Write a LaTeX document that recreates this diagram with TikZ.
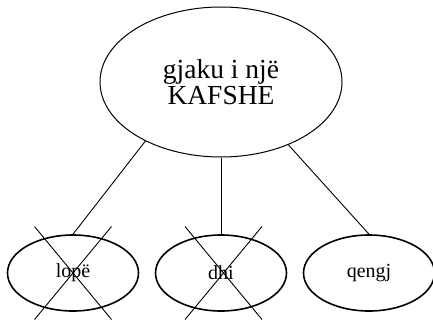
\documentclass[tikz,border=0pt]{standalone}
\usepackage{fontspec}
\setmainfont{Liberation Serif}
\usetikzlibrary{trees,shapes.geometric}

\begin{document}
\begin{tikzpicture}[
  x=1pt, y=1pt,
  level distance=191pt,
  sibling distance=148pt,
  edge from parent/.style={draw,line width=0.9pt},
  edge from parent path={(\tikzparentnode) -- (\tikzchildnode.north)},
  edgeat/.style={edge from parent path={(\tikzparentnode.#1) -- (\tikzchildnode.north)}},
  bigoval/.style={ellipse,draw,line width=1pt,inner sep=0pt,
    minimum width=242pt,minimum height=150pt,align=center,
    font=\fontsize{27.5}{26}\selectfont},
  smalloval/.style={ellipse,draw,line width=1.6pt,inner sep=0pt,
    minimum width=131pt,minimum height=76pt,
    font=\fontsize{20}{20}\selectfont},
  crossout/.style={draw,line width=0.9pt}
  ]
\useasboundingbox (0,0) rectangle (433,-321);

% Root node
\node[bigoval] (blood) at (221,-82) {gjaku i një\\KAFSHE}
  child[edgeat=218.7] {node[smalloval] (cow) {lopë}}
  child {node[smalloval] (goat) {dhi}}
  child[edgeat=317.2] {node[smalloval] (lamb) {qengj}};

% crossed-out animals
\draw[crossout] (cow.center) +(-38.5,46.5) -- +(38.5,-46.5);
\draw[crossout] (cow.center) +(38.5,46.5) -- +(-38.5,-46.5);
\draw[crossout] ([xshift=2.5pt]goat.center) +(-38.5,46.5) -- +(38.5,-46.5);
\draw[crossout] ([xshift=2.5pt]goat.center) +(38.5,46.5) -- +(-38.5,-46.5);

\end{tikzpicture}
\end{document}
